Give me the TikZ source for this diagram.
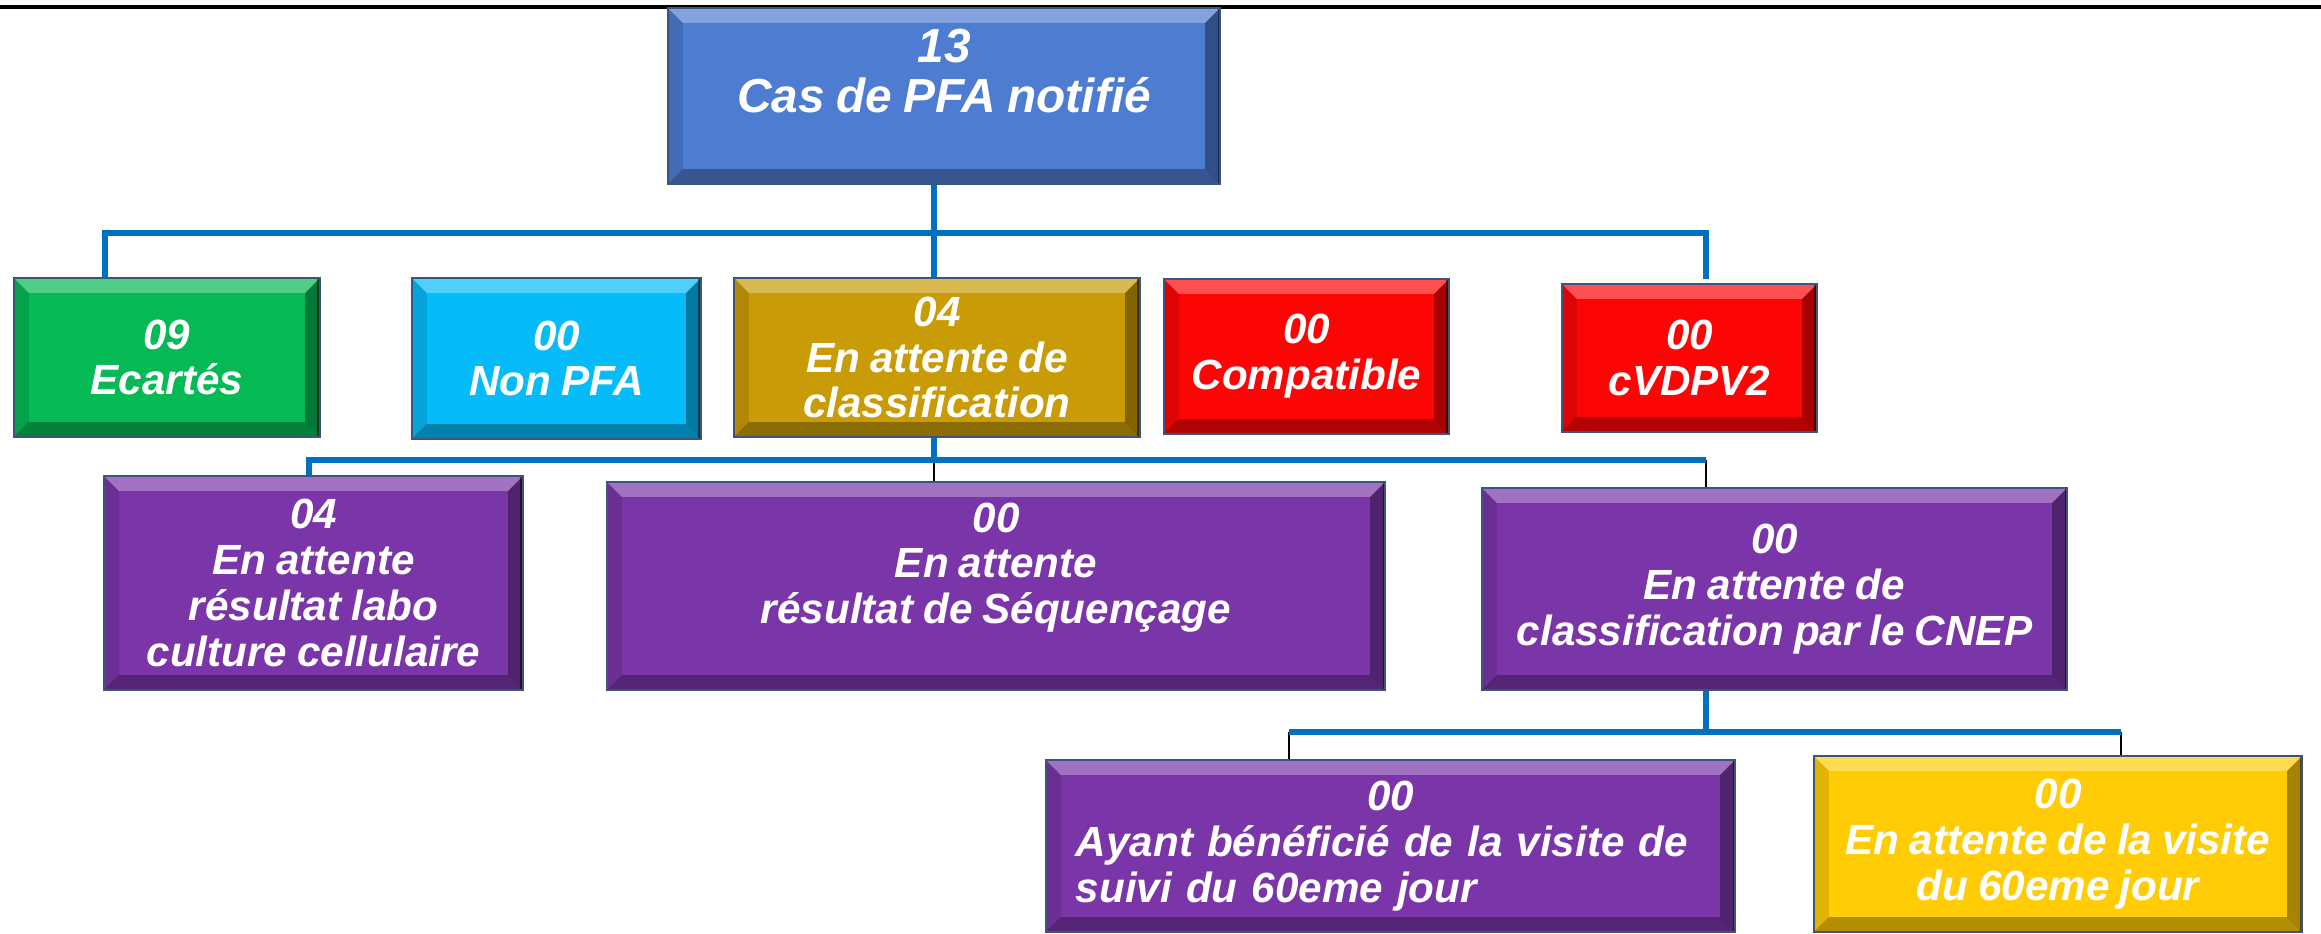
\documentclass[tikz,border=0pt]{standalone}
\usepackage{fontspec}
\setmainfont{Liberation Sans}[WordSpace=0.85]
\definecolor{casblue}{RGB}{78,124,208}
\definecolor{ecarte}{RGB}{5,185,85}
\definecolor{nonpfa}{RGB}{5,187,250}
\definecolor{attente}{RGB}{201,155,6}
\definecolor{alerte}{RGB}{254,5,5}
\definecolor{labo}{RGB}{122,54,168}
\definecolor{visite}{RGB}{255,204,5}
\definecolor{linkblue}{RGB}{0,112,192}
\definecolor{edge}{RGB}{60,85,125}
\def\bevsize{0.15cm}
\tikzstyle{box} = [rectangle, draw=edge, line width=0.7pt, inner sep=0pt, text=white, align=center,
  font=\bfseries\itshape\fontsize{12}{13}\selectfont,
  path picture={
    \path (path picture bounding box.north west) coordinate (pnw)
          (path picture bounding box.north east) coordinate (pne)
          (path picture bounding box.south east) coordinate (pse)
          (path picture bounding box.south west) coordinate (psw);
    \fill[white, opacity=.3] (pnw) -- (pne) -- ([shift={(-\bevsize,-\bevsize)}]pne) -- ([shift={(\bevsize,-\bevsize)}]pnw) -- cycle;
    \fill[black, opacity=.3] (psw) -- (pse) -- ([shift={(-\bevsize,\bevsize)}]pse) -- ([shift={(\bevsize,\bevsize)}]psw) -- cycle;
    \fill[black, opacity=.35] (pne) -- (pse) -- ([shift={(-\bevsize,\bevsize)}]pse) -- ([shift={(-\bevsize,-\bevsize)}]pne) -- cycle;
    \fill[black, opacity=.12] (pnw) -- (psw) -- ([shift={(\bevsize,\bevsize)}]psw) -- ([shift={(\bevsize,-\bevsize)}]pnw) -- cycle;
    \draw[black, opacity=.5, line width=1.5pt] (pne) -- (pse);
  }]
\tikzstyle{link} = [line width=1.6pt, draw=linkblue]
\tikzstyle{tick} = [line width=0.7pt, draw=black]

\begin{document}
\begin{tikzpicture}[x=0.01cm, y=-0.01cm]
  \useasboundingbox (0,0) rectangle (2321,934);
  % Draw top rule
  \coordinate (rulel) at (0,7);
  \coordinate (ruler) at (2321,7);
  \draw[line width=1pt] (rulel) -- (ruler);
  % Draw nodes
  \node (root)[box, fill=casblue, minimum width=5.52cm, minimum height=1.76cm,
               font=\bfseries\itshape\fontsize{13.6}{14.2}\selectfont] at (944,96) {13\\Cas de PFA notifié\\\mbox{}};
  \node (ecartes)[box, fill=ecarte, minimum width=3.06cm, minimum height=1.59cm] at (167,357.5) {09\\Ecartés};
  \node (nonpfa)[box, fill=nonpfa, minimum width=2.89cm, minimum height=1.61cm] at (556.5,358.5) {00\\Non PFA};
  \node (classif)[box, fill=attente, minimum width=4.06cm, minimum height=1.59cm] at (937,357.5) {04\\En attente de\\classification};
  \node (compat)[box, fill=alerte, minimum width=2.85cm, minimum height=1.55cm] at (1306.5,356.5) {00\\Compatible};
  \node (cvdpv)[box, fill=alerte, minimum width=2.55cm, minimum height=1.48cm] at (1689.5,358) {00\\cVDPV2};
  \node (culture)[box, fill=labo, minimum width=4.19cm, minimum height=2.14cm] at (313.5,583) {04\\En attente\\résultat labo\\culture cellulaire};
  \node (sequence)[box, fill=labo, minimum width=7.78cm, minimum height=2.08cm] at (996,586) {00\\En attente\\résultat de Séquençage\\\mbox{}};
  \node (cnep)[box, fill=labo, minimum width=5.85cm, minimum height=2.02cm] at (1774.5,589) {00\\En attente de\\classification par le CNEP};
  \node (suivi)[box, fill=labo, minimum width=6.89cm, minimum height=1.72cm, text width=6.29cm, align=left] at (1390.5,846)
       {\hfill 00\hfill\mbox{}\\Ayant bénéficié de la visite de\\suivi du 60eme jour};
  \node (jour60)[box, fill=visite, minimum width=4.88cm, minimum height=1.76cm] at (2058,844) {00\\En attente de la visite\\du 60eme jour};
  % Draw connectors
  \coordinate (bar1l) at (105,233);
  \coordinate (bar1m) at (934,233);
  \coordinate (bar1r) at (1706,233);
  \coordinate (bar2l) at (309,460);
  \coordinate (bar2m) at (934,460);
  \coordinate (bar2r) at (1706,460);
  \coordinate (bar3l) at (1289,732);
  \coordinate (bar3m) at (1706,732);
  \coordinate (bar3r) at (2121,732);
  \draw [link] (bar1m |- root.south) -- (bar1m |- classif.north);
  \draw [link, shorten >=0.04cm] (bar1l |- ecartes.north) -- (bar1l) -- (bar1r) -- (bar1r |- cvdpv.north);
  \draw [tick] (bar2m) -- (bar2m |- sequence.north);
  \draw [tick] (bar2r) -- (bar2r |- cnep.north);
  \draw [link] (bar2m |- classif.south) -- (bar2m);
  \draw [link] (bar2l |- culture.north) -- (bar2l) -- (bar2r);
  \draw [tick] (bar3l) -- (bar3l |- suivi.north);
  \draw [tick] (bar3r) -- (bar3r |- jour60.north);
  \draw [link] (bar3m |- cnep.south) -- (bar3m);
  \draw [link] (bar3l) -- (bar3r);
\end{tikzpicture}
\end{document}
